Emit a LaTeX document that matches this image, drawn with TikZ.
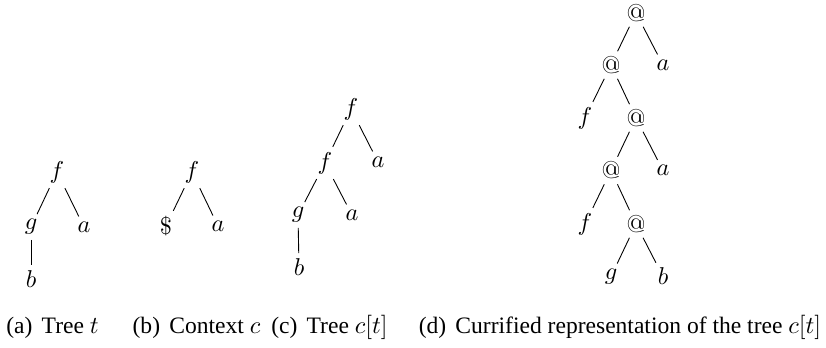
\documentclass[tikz,border=0pt]{standalone}
\usepackage[no-math]{fontspec}
\setmainfont{Liberation Serif}
\usepackage{amsmath}

\begin{document}
\begin{tikzpicture}[x = 0.45pt, y = -0.45pt, font = \fontsize{10.6pt}{13pt}\selectfont, every node/.style = {inner sep = 2.2pt}]
            \useasboundingbox (0, 0) rectangle (826, 347);

            % (a) tree t
            \node (ta_f) at (57, 172) {$f$};
            \node (ta_g) at (31, 227) {$g$};
            \node (ta_a) at (84, 227) {$a$};
            \node (ta_b) at (31, 279) {$b$};
            \draw (ta_f) -- (ta_g);
            \draw (ta_f) -- (ta_a);
            \draw (ta_g) -- (ta_b);

            % (b) context c
            \node (tb_f) at (192, 172) {$f$};
            \node (tb_h) at (166, 226) {$\$$};
            \node (tb_a) at (218, 226) {$a$};
            \draw (tb_f) -- (tb_h);
            \draw (tb_f) -- (tb_a);

            % (c) tree c[t]
            \node (tc_f) at (351, 109) {$f$};
            \node (tc_f2) at (325, 163) {$f$};
            \node (tc_a) at (378, 162) {$a$};
            \node (tc_g) at (298, 215) {$g$};
            \node (tc_a2) at (352, 215) {$a$};
            \node (tc_b) at (299, 267) {$b$};
            \foreach \p/\c in {tc_f/tc_f2, tc_f/tc_a, tc_f2/tc_g, tc_f2/tc_a2, tc_g/tc_b} {
                \draw (\p) -- (\c);
            }

            % (d) currified tree
            \node (td_r) at (636, 13) {$@$};
            \node (td_1) at (611, 65) {$@$};
            \node (td_a) at (663, 65) {$a$};
            \node (td_f) at (585, 118) {$f$};
            \node (td_2) at (636, 118) {$@$};
            \node (td_3) at (611, 170.5) {$@$};
            \node (td_a2) at (663, 170.5) {$a$};
            \node (td_f2) at (585, 224) {$f$};
            \node (td_4) at (636, 224) {$@$};
            \node (td_g) at (611, 276.5) {$g$};
            \node (td_b) at (663, 276.5) {$b$};
            \foreach \p/\c in {td_r/td_1, td_r/td_a, td_1/td_f, td_1/td_2, td_2/td_3, td_2/td_a2,
                               td_3/td_f2, td_3/td_4, td_4/td_g, td_4/td_b} {
                \draw (\p) -- (\c);
            }

            % captions
            \node[anchor = base, inner sep = 0] (cap_a) at (52.5, 333) {(a)\hspace{1.5pt} Tree $t$};
            \node[anchor = base, inner sep = 0] (cap_b) at (196.5, 333) {(b)\hspace{1.5pt} Context $c$};
            \node[anchor = base, inner sep = 0] (cap_c) at (329.5, 333) {(c)\hspace{1.5pt} Tree $c[t]$};
            \node[anchor = base, inner sep = 0] (cap_d) at (620, 333) {(d)\hspace{1.5pt} Currified representation of the tree $c[t]$};
\end{tikzpicture}
\end{document}
